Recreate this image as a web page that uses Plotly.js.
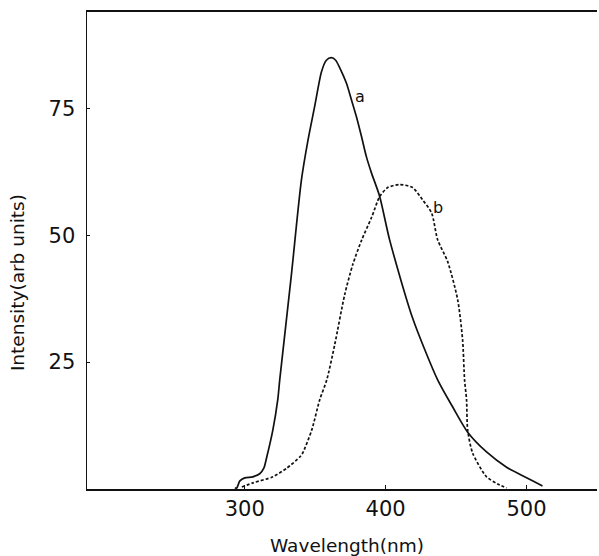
<!DOCTYPE html>
<html>
<head>
<meta charset="utf-8">
<script src="https://cdn.plot.ly/plotly-3.0.1.min.js"></script>
<style>html,body{margin:0;padding:0;background:#fff;}#chart{width:599px;height:556px;}</style>
</head>
<body>
<div id="chart"></div>
<script>
// Curve a (solid)
var aWavelength = [292.9, 294.3, 296.5, 300.0, 305.7, 310.6, 313.5, 315.6, 319.9, 323.4, 324.8, 333.0, 340.2, 344.9, 349.6, 354.4, 357.9, 361.5, 364.5, 367.4, 372.1, 375.7, 379.2, 382.8, 386.3, 389.9, 395.7, 402.8, 419.1, 436.9, 447.5, 458.2, 471.6, 485.8, 500.0, 511.3];
var aIntensity  = [0.2, 0.2, 1.6, 2.2, 2.4, 3.0, 4.1, 6.3, 11.6, 17.6, 21.5, 42.0, 60.9, 68.8, 75.4, 82.2, 84.5, 85.0, 84.5, 83.0, 80.0, 76.7, 73.4, 69.5, 65.5, 62.3, 57.7, 49.1, 33.7, 21.5, 16.2, 11.2, 7.3, 4.3, 2.2, 0.6];
// Curve b (dashed)
var bWavelength = [297.9, 305.7, 319.9, 329.8, 339.0, 341.1, 347.5, 353.2, 358.2, 363.8, 370.9, 376.6, 383.0, 390.1, 395.7, 401.4, 409.9, 419.1, 426.2, 432.6, 436.9, 444.0, 451.1, 454.6, 456.0, 457.4, 458.2, 461.7, 471.6, 480.9, 485.8];
var bIntensity  = [0.4, 1.2, 2.4, 4.1, 6.3, 7.1, 11.6, 17.6, 21.5, 28.4, 38.3, 44.2, 49.1, 53.6, 57.6, 59.4, 60.0, 59.4, 57.0, 54.4, 49.1, 44.8, 37.3, 29.4, 21.5, 17.6, 11.6, 7.1, 2.4, 0.8, 0.2];
var xTicks = [300, 400, 500];
var yTicks = [25, 50, 75];
var curveLabels = ["a", "b"];
var labelPos = [[382.0, 77.3], [437.0, 55.4]];

var fontFam = "DejaVu Sans, sans-serif";
var traces = [
  {x: aWavelength, y: aIntensity, mode: "lines", type: "scatter",
   line: {color: "#111", width: 1.7, shape: "spline", smoothing: 0.7}, hoverinfo: "skip"},
  {x: bWavelength, y: bIntensity, mode: "lines", type: "scatter",
   line: {color: "#111", width: 1.7, dash: "3px,2px", shape: "spline", smoothing: 0.7}, hoverinfo: "skip"}
];
var annotations = curveLabels.map(function(t, i){
  return {x: labelPos[i][0], y: labelPos[i][1], xref: "x", yref: "y", text: t, showarrow: false,
          font: {family: fontFam, size: 16, color: "#111"}, xanchor: "center", yanchor: "middle"};
});
annotations.push({text: "Intensity(arb units)", xref: "paper", yref: "paper", x: -0.135, y: 0.432,
  textangle: -90, showarrow: false, xanchor: "center", yanchor: "middle",
  font: {family: fontFam, size: 18.5, color: "#111"}});
annotations.push({text: "Wavelength(nm)", xref: "paper", yref: "paper", x: 0.51, y: -0.119,
  showarrow: false, xanchor: "center", yanchor: "middle",
  font: {family: fontFam, size: 18.5, color: "#111"}});

var layout = {
  width: 599, height: 556,
  margin: {l: 87, r: 2, t: 12, b: 67},
  paper_bgcolor: "#fff", plot_bgcolor: "#fff",
  showlegend: false,
  xaxis: {range: [188, 550], tickvals: xTicks, ticktext: xTicks.map(String),
    showgrid: false, zeroline: false, showline: true, mirror: true, linecolor: "#111", linewidth: 1.8,
    ticks: "inside", ticklen: 4, tickcolor: "#111", tickwidth: 1,
    tickfont: {family: fontFam, size: 21, color: "#111"}},
  yaxis: {range: [0, 94], tickvals: yTicks, ticktext: yTicks.map(String),
    showgrid: false, zeroline: false, showline: true, mirror: false, linecolor: "#111", linewidth: 1.5,
    ticks: "inside", ticklen: 3, tickcolor: "#111", tickwidth: 1,
    ticklabelstandoff: 6,
    tickfont: {family: fontFam, size: 21, color: "#111"}},
  annotations: annotations
};
Plotly.newPlot("chart", traces, layout, {staticPlot: true, displayModeBar: false});
</script>
</body>
</html>
